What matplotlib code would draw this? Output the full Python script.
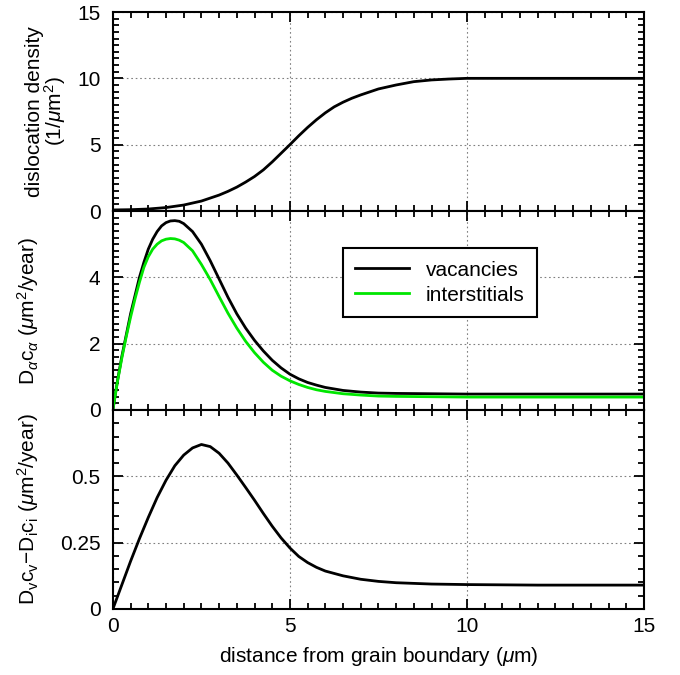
import numpy as np
import matplotlib
matplotlib.use("Agg")
import matplotlib.pyplot as plt
from matplotlib.ticker import MultipleLocator

plt.rcParams['font.family'] = ['Liberation Sans', 'DejaVu Sans']
plt.rcParams['mathtext.fontset'] = 'custom'
plt.rcParams['mathtext.rm'] = 'Liberation Sans'
plt.rcParams['mathtext.it'] = 'Liberation Sans:italic'
plt.rcParams['font.size'] = 15

## DATOS

x_rho = [0, 0.5, 1, 1.5, 2, 2.5, 3, 3.25, 3.5, 3.75, 4, 4.25, 4.5, 4.75, 5,
         5.25, 5.5, 5.75, 6, 6.25, 6.5, 6.75, 7, 7.5, 8, 8.5, 9, 9.5, 10,
         11, 12, 13, 14, 15]
rho = [0.08, 0.1, 0.15, 0.26, 0.45, 0.75, 1.2, 1.48, 1.8, 2.18, 2.6, 3.1,
       3.7, 4.35, 5.0, 5.67, 6.3, 6.88, 7.4, 7.85, 8.2, 8.5, 8.75, 9.2, 9.5,
       9.75, 9.88, 9.95, 10.0, 10.0, 10.0, 10.0, 10.0, 10.0]

x_dc = [0, 0.125, 0.25, 0.375, 0.5, 0.625, 0.75, 0.875, 1, 1.125, 1.25, 1.375,
        1.5, 1.625, 1.75, 1.875, 2, 2.25, 2.5, 2.75, 3, 3.25, 3.5, 3.75, 4,
        4.25, 4.5, 4.75, 5, 5.25, 5.5, 5.75, 6, 6.5, 7, 7.5, 8, 9, 10, 12, 15]
dc_vac = [0, 0.85, 1.6, 2.25, 2.9, 3.45, 4.0, 4.45, 4.85, 5.15, 5.38, 5.55,
          5.65, 5.7, 5.71, 5.69, 5.62, 5.38, 5.0, 4.5, 3.95, 3.4, 2.9, 2.47,
          2.1, 1.78, 1.5, 1.27, 1.08, 0.94, 0.83, 0.75, 0.68, 0.59, 0.54,
          0.51, 0.5, 0.49, 0.48, 0.48, 0.48]
dc_int = [0, 0.83, 1.55, 2.2, 2.8, 3.35, 3.85, 4.3, 4.62, 4.85, 5.0, 5.1,
          5.15, 5.17, 5.16, 5.12, 5.05, 4.8, 4.39, 3.93, 3.42, 2.92, 2.47,
          2.07, 1.73, 1.44, 1.2, 1.02, 0.88, 0.77, 0.68, 0.61, 0.56, 0.49,
          0.45, 0.42, 0.41, 0.4, 0.39, 0.39, 0.39]

x_diff = [0, 0.25, 0.5, 0.75, 1, 1.25, 1.5, 1.75, 2, 2.25, 2.5, 2.75, 3,
          3.25, 3.5, 3.75, 4, 4.25, 4.5, 4.75, 5, 5.25, 5.5, 5.75, 6, 6.5,
          7, 7.5, 8, 9, 10, 12, 15]
diff = [0, 0.09, 0.18, 0.265, 0.345, 0.42, 0.485, 0.54, 0.58, 0.607, 0.62,
        0.612, 0.587, 0.55, 0.505, 0.458, 0.41, 0.36, 0.312, 0.268, 0.23,
        0.198, 0.175, 0.157, 0.143, 0.125, 0.112, 0.104, 0.099, 0.094,
        0.092, 0.09, 0.09]

verde = '#00e600'

## FIGURA

fig = plt.figure(figsize=(6.8, 6.75), dpi=100)
izq, ancho = 0.166, 0.781
abajo = [0.6874, 0.3926, 0.0978]
alto = 0.2948
ax1 = fig.add_axes([izq, abajo[0], ancho, alto])
ax2 = fig.add_axes([izq, abajo[1], ancho, alto], sharex=ax1)
ax3 = fig.add_axes([izq, abajo[2], ancho, alto], sharex=ax1)

ax1.plot(x_rho, rho, color='black', lw=2)
ax2.plot(x_dc, dc_vac, color='black', lw=2, label='vacancies')
ax2.plot(x_dc, dc_int, color=verde, lw=2, label='interstitials')
ax3.plot(x_diff, diff, color='black', lw=2)

ax1.set_ylim(0, 15)
ax1.set_yticks([0, 5, 10, 15])
ax1.yaxis.set_minor_locator(MultipleLocator(0.5))

ax2.set_ylim(0, 6)
ax2.set_yticks([0, 2, 4])
ax2.yaxis.set_minor_locator(MultipleLocator(0.2))

ax3.set_ylim(0, 0.75)
ax3.set_yticks([0, 0.25, 0.5])
ax3.set_yticklabels(['0', '0.25', '0.5'])
ax3.yaxis.set_minor_locator(MultipleLocator(0.05))

ax3.set_xlim(0, 15)
ax3.set_xticks([0, 5, 10, 15])
ax3.xaxis.set_minor_locator(MultipleLocator(0.5))

for ax in (ax1, ax2, ax3):
    ax.grid(True, which='major', color='#808080', linestyle=(0, (1.5, 2.5)), lw=0.8)
    ax.tick_params(which='both', direction='in', top=True, right=True,
                   width=1.3, labelsize=15)
    ax.tick_params(which='major', length=7)
    ax.tick_params(axis='x', which='major', pad=6)
    ax.tick_params(axis='y', which='major', pad=9)
    ax.tick_params(which='minor', length=4)
    for s in ax.spines.values():
        s.set_linewidth(1.5)
    ax.set_axisbelow(True)

ax1.tick_params(labelbottom=False)
ax2.tick_params(labelbottom=False)

ax1.set_ylabel('dislocation density\n' + r'(1/$\mu$m$^2$)', fontsize=15, linespacing=0.9)
ax1.yaxis.set_label_coords(-0.085, 0.5)
ax2.set_ylabel(r'D$_\alpha$c$_\alpha$ ($\mu$m$^2$/year)', fontsize=15)
ax2.yaxis.set_label_coords(-0.135, 0.5)
ax3.set_ylabel(r'D$_\mathrm{v}$c$_\mathrm{v}$$-$D$_\mathrm{i}$c$_\mathrm{i}$ ($\mu$m$^2$/year)', fontsize=15)
ax3.yaxis.set_label_coords(-0.135, 0.5)
ax3.set_xlabel(r'distance from grain boundary ($\mu$m)', fontsize=15, labelpad=6)

leg = ax2.legend(loc='center', bbox_to_anchor=(0.616, 0.64), fontsize=15,
                 fancybox=False, framealpha=1, edgecolor='black',
                 handlelength=2.6, borderpad=0.6, labelspacing=0.3)
leg.get_frame().set_linewidth(1.5)

plt.savefig('out.png', dpi=100)
